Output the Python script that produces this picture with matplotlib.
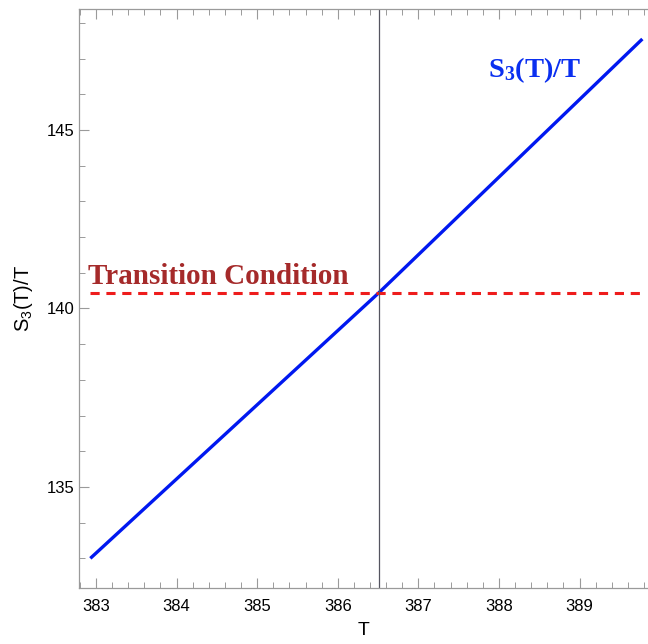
import numpy as np
import matplotlib
matplotlib.use("Agg")
import matplotlib.pyplot as plt
from matplotlib.ticker import MultipleLocator

plt.rcParams['font.family'] = ['Liberation Sans', 'DejaVu Sans']
plt.rcParams['mathtext.default'] = 'regular'

# action over temperature
T = [382.93, 386.51, 389.78]
S3_over_T = [133.0, 140.44, 147.55]

# transition condition and critical temperature
S_crit = 140.44
T_crit = 386.51
T_dash = [382.93, 389.78]

fig = plt.figure(figsize=(6.48, 6.44), dpi=100)
ax = fig.add_axes([0.122, 0.087, 0.878, 0.899])

ax.plot(T, S3_over_T, color="#0018f0", linewidth=2.4, solid_capstyle="butt")
ax.plot(T_dash, [S_crit, S_crit], color="#ee1c1c", linewidth=2.2,
        linestyle=(0, (3, 2.2)))
ax.axvline(T_crit, color="#555560", linewidth=0.9)

ax.text(382.9, S_crit + 0.25, "Transition Condition", color="#a52a2a",
        fontsize=21, fontweight="bold", family=["Liberation Serif"],
        ha="left", va="baseline")
ax.text(387.87, 146.48, "S$_3$(T)/T", color="#0a2ff0", fontsize=20.5,
        fontweight="bold", family=["Liberation Serif"], ha="left", va="baseline")

ax.set_xlim(382.79, 389.85)
ax.set_ylim(132.17, 148.39)
ax.xaxis.set_major_locator(MultipleLocator(1))
ax.xaxis.set_minor_locator(MultipleLocator(0.2))
ax.yaxis.set_major_locator(MultipleLocator(5))
ax.yaxis.set_minor_locator(MultipleLocator(1))

ax.tick_params(which="both", direction="in", top=True, right=False,
               color="#9a9a9a", labelsize=12)
ax.tick_params(which="major", length=7, width=0.8)
ax.tick_params(which="minor", length=4, width=0.7)
ax.tick_params(axis="x", pad=8)
for s in ax.spines.values():
    s.set_color("#9a9a9a")
    s.set_linewidth(0.9)
ax.spines["right"].set_visible(False)

ax.set_xlabel("T", fontsize=14, labelpad=6)
ax.set_ylabel("S$_3$(T)/T", fontsize=14.5, labelpad=8)

fig.savefig("out.png", dpi=100)
